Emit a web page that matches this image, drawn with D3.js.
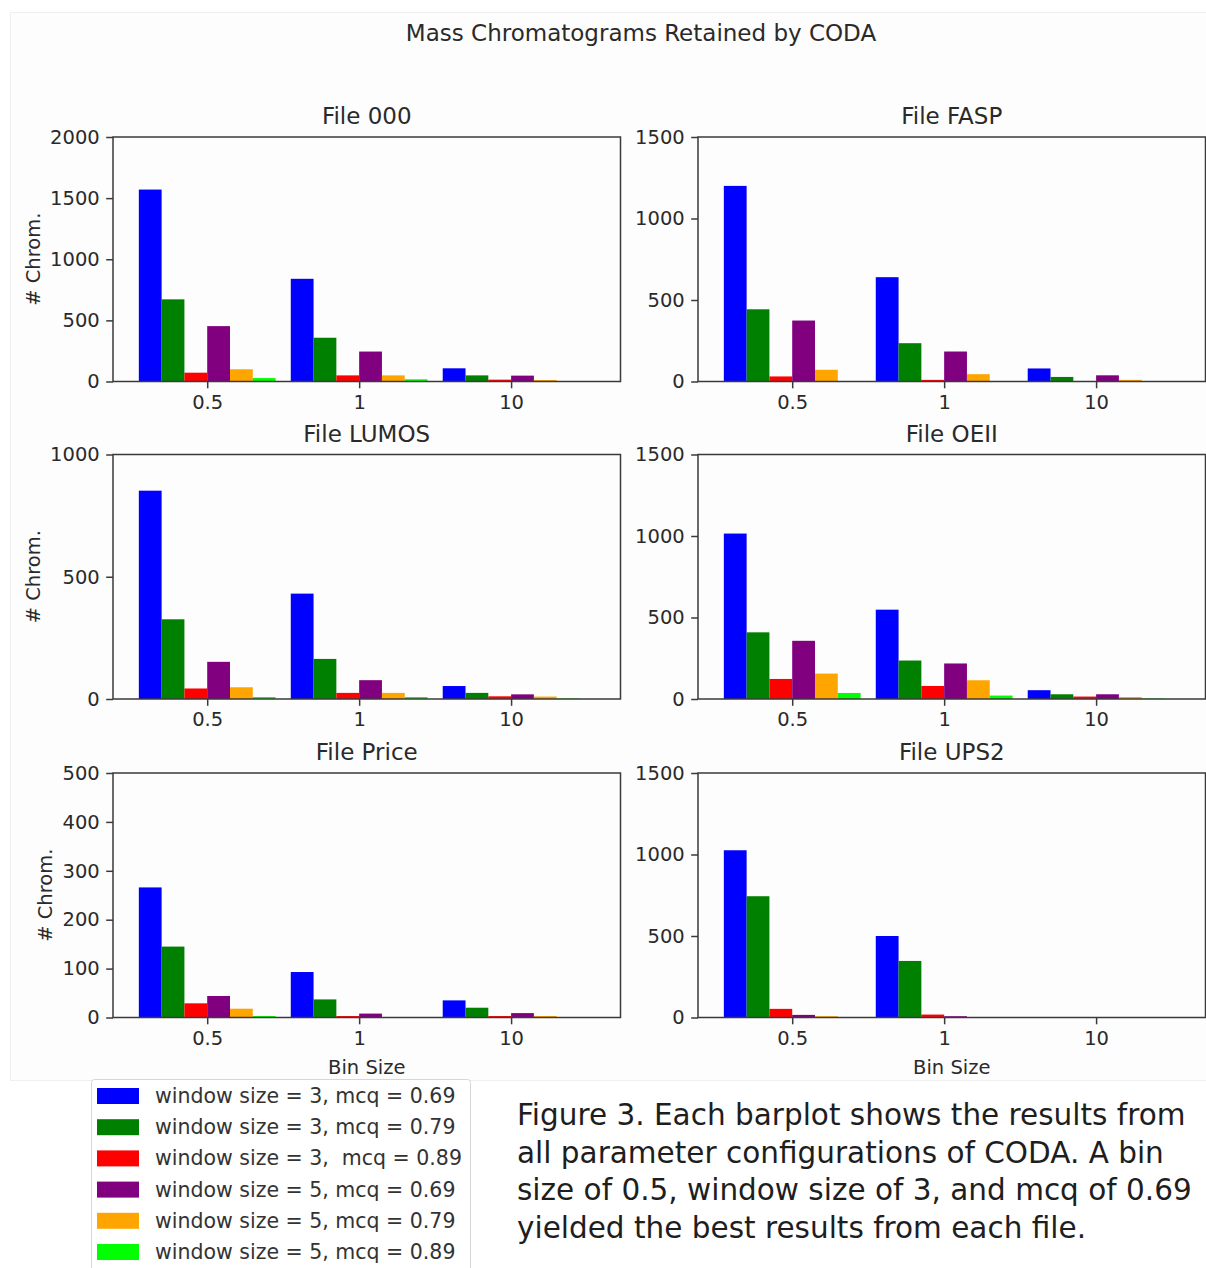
<!DOCTYPE html>
<html>
<head>
<meta charset="utf-8">
<script src="https://cdn.jsdelivr.net/npm/d3@7"></script>
<style>
  body { margin: 0; background: #fff; }
  svg { display: block; font-family: 'DejaVu Sans', sans-serif; }
</style>
</head>
<body>
<div id="chart"></div>
<script>
'use strict'

var width = 1206
var height = 1268

// ============================ data =======================================================
var binSizes = ['0.5', '1', '10']
var seriesLabels = [
  'window size = 3, mcq = 0.69',
  'window size = 3, mcq = 0.79',
  'window size = 3,  mcq = 0.89',
  'window size = 5, mcq = 0.69',
  'window size = 5, mcq = 0.79',
  'window size = 5, mcq = 0.89'
]
var seriesColors = ['#0000ff', '#008000', '#ff0000', '#800080', '#ffa500', '#00ff00']

// one row per series (same order as seriesLabels), one value per bin size
var file000 = [[1570, 840, 108], [672, 358, 50], [72, 50, 15], [453, 245, 48], [100, 50, 12], [28, 18, 3]]
var fileFASP = [[1200, 640, 80], [443, 235, 28], [31, 10, 2], [374, 184, 38], [72, 45, 10], [0, 0, 0]]
var fileLUMOS = [[852, 431, 53], [326, 164, 25], [43, 25, 11], [152, 77, 19], [48, 25, 10], [8, 8, 2]]
var fileOEII = [[1015, 548, 54], [409, 236, 29], [123, 80, 15], [357, 218, 29], [156, 115, 12], [37, 21, 3]]
var filePrice = [[266, 93, 35], [145, 37, 20], [29, 3, 3], [44, 8, 9], [18, 0, 3], [3, 0, 0]]
var fileUPS2 = [[1026, 500, 0], [744, 347, 0], [53, 18, 0], [16, 8, 0], [8, 0, 0], [0, 0, 0]]

var panelTitles = ['File 000', 'File FASP', 'File LUMOS', 'File OEII', 'File Price', 'File UPS2']
var panelValues = [file000, fileFASP, fileLUMOS, fileOEII, filePrice, fileUPS2]
var panelMax = [2000, 1500, 1000, 1500, 500, 1500]
var panelStep = [500, 500, 500, 500, 100, 500]

var captionLines = [
  'Figure 3. Each barplot shows the results from',
  'all parameter configurations of CODA. A bin',
  'size of 0.5, window size of 3, and mcq of 0.69',
  'yielded the best results from each file.'
]

// ============================ layout ===================================
var colX = [113, 698]
var rowY = [137, 454.5, 773]
var axW = 507.5
var axH = 244.5
var barW = 0.15
var textColor = '#2a2a2a'
var spineColor = '#3a3a3a'

var svg = d3.select('#chart').append('svg')
  .attr('width', width)
  .attr('height', height)

// faint frame of the pasted figure
svg.append('rect')
  .attr('x', 10.5).attr('y', 12.5)
  .attr('width', width).attr('height', 1068)
  .attr('fill', '#fdfdfd')
  .attr('stroke', '#efefef')

svg.append('text')
  .attr('x', 641).attr('y', 41)
  .attr('text-anchor', 'middle')
  .attr('font-size', 23)
  .attr('fill', textColor)
  .text('Mass Chromatograms Retained by CODA')

panelValues.forEach(function (values, p) {
  var col = p % 2
  var row = Math.floor(p / 2)
  var g = svg.append('g').attr('transform', 'translate(' + colX[col] + ',' + rowY[row] + ')')

  var x = d3.scaleLinear().domain([-0.62, 2.72]).range([0, axW])
  var y = d3.scaleLinear().domain([0, panelMax[p]]).range([axH, 0])

  var bars = []
  values.forEach(function (series, s) {
    series.forEach(function (v, b) {
      bars.push({ s: s, b: b, v: v })
    })
  })

  g.append('g').selectAll('rect')
    .data(bars)
    .join('rect')
    .attr('x', d => x(d.b + (d.s - 3) * barW))
    .attr('width', x(barW) - x(0))
    .attr('y', d => y(d.v))
    .attr('height', d => axH - y(d.v))
    .attr('fill', d => seriesColors[d.s])

  var xAxis = g.append('g')
    .attr('transform', 'translate(0,' + axH + ')')
    .call(d3.axisBottom(x).tickValues([0, 1, 2]).tickFormat(i => binSizes[i])
      .tickSize(6.8).tickPadding(6.5))
  var yAxis = g.append('g')
    .call(d3.axisLeft(y).ticks(panelMax[p] / panelStep[p]).tickFormat(d3.format('d'))
      .tickSize(6.8).tickPadding(6.5))

  ;[xAxis, yAxis].forEach(function (ax) {
    ax.select('.domain').remove()
    ax.selectAll('line').attr('stroke', spineColor).attr('stroke-width', 1.5)
    ax.selectAll('text').attr('font-size', 19.5).attr('fill', textColor)
      .attr('font-family', 'DejaVu Sans, sans-serif')
  })

  g.append('rect')
    .attr('width', axW).attr('height', axH)
    .attr('fill', 'none')
    .attr('stroke', spineColor)
    .attr('stroke-width', 1.5)

  g.append('text')
    .attr('x', axW / 2).attr('y', -13)
    .attr('text-anchor', 'middle')
    .attr('font-size', 23)
    .attr('fill', textColor)
    .text(panelTitles[p])

  if (col === 0) {
    var bb = yAxis.node().getBBox()
    g.append('text')
      .attr('transform', 'translate(' + (bb.x - 10) + ',' + axH / 2 + ') rotate(-90)')
      .attr('text-anchor', 'middle')
      .attr('font-size', 19.5)
      .attr('fill', textColor)
      .text('# Chrom.')
  }
  if (row === 2) {
    g.append('text')
      .attr('x', axW / 2).attr('y', axH + 56)
      .attr('text-anchor', 'middle')
      .attr('font-size', 19.5)
      .attr('fill', textColor)
      .text('Bin Size')
  }
})

// legend
var legend = svg.append('g').attr('transform', 'translate(91,1079)')
legend.append('rect')
  .attr('x', 0.5).attr('y', 0.5)
  .attr('width', 379).attr('height', 200)
  .attr('rx', 3)
  .attr('fill', '#fff')
  .attr('stroke', '#d6d6d6')

legend.selectAll('g.item')
  .data(seriesLabels)
  .join('g')
  .attr('class', 'item')
  .attr('transform', (d, i) => 'translate(0,' + (17 + i * 31.2) + ')')
  .call(item => {
    item.append('rect')
      .attr('x', 6).attr('y', -8)
      .attr('width', 42).attr('height', 16)
      .attr('fill', (d, i) => seriesColors[i])
    item.append('text')
      .attr('x', 64).attr('y', 7)
      .attr('font-size', 20.5)
      .attr('fill', '#333')
      .style('white-space', 'pre')
      .text(d => d)
  })

// caption
svg.append('g')
  .selectAll('text')
  .data(captionLines)
  .join('text')
  .attr('x', 517)
  .attr('y', (d, i) => 1125 + i * 37.6)
  .attr('font-size', 29.5)
  .attr('fill', '#1e1e1e')
  .text(d => d)
</script>
</body>
</html>
